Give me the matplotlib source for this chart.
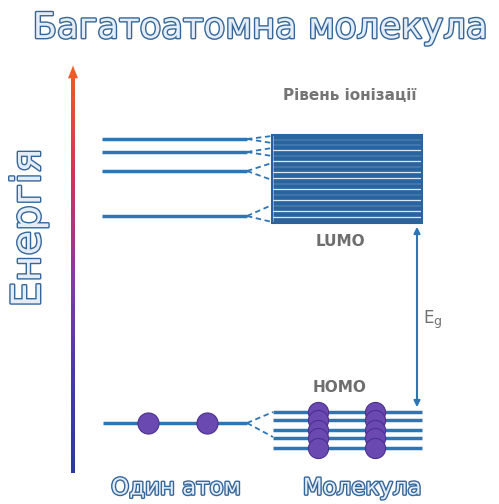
import matplotlib.pyplot as plt
import matplotlib.patheffects as pe
import numpy as np
from matplotlib.colors import LinearSegmentedColormap

# diagram coordinates are in picture pixels (y grows downwards)
atom_upper = [139, 152, 171, 216]
split_upper = [(136, 143), (148, 156), (163, 180), (205, 222)]
band_upper = [137, 142, 147, 153, 158, 164, 169, 175, 181, 186, 192, 197, 203, 208, 214, 220]
atom_lower = 423
split_lower = (412, 437)
homo_lines = [412, 420, 430, 438, 448]
atom_dots = [148, 207]
homo_dot_x = [318, 375]

blue = '#2e75b6'
dark = '#2a64a0'
fill = '#e4edf7'
outline = [pe.Stroke(linewidth=2.0, foreground='#34669a'), pe.Normal()]

fig = plt.figure(figsize=(4.99, 5.04), dpi=100)
ax = fig.add_axes([0, 0, 1, 1])

# energy arrow with colour gradient
cmap = LinearSegmentedColormap.from_list(
    'e', ['#2b3a9a', '#4a3aa8', '#8a3aa0', '#d8305a', '#f05a28'])
grad = np.linspace(0, 1, 256).reshape(-1, 1)
ax.imshow(grad, cmap=cmap, aspect='auto', extent=(71.3, 74.7, 473, 74), origin='lower',
          interpolation='bilinear')
ax.annotate('', xy=(73, 63), xytext=(73, 76),
            arrowprops=dict(arrowstyle='-|>,head_length=0.55,head_width=0.22',
                            color='#f05a28', lw=0.1, mutation_scale=16))

ax.set_xlim(0, 499)
ax.set_ylim(504, 0)
ax.axis('off')

# atomic levels and splitting
for y, (a, b) in zip(atom_upper, split_upper):
    ax.plot([102, 247], [y, y], color=blue, lw=2.5, solid_capstyle='butt')
    ax.plot([247, 272], [y, a], color=blue, lw=1.3, ls=(0, (3, 2)))
    ax.plot([247, 272], [y, b], color=blue, lw=1.3, ls=(0, (3, 2)))

# conduction band box
ax.add_patch(plt.Rectangle((272, 135), 150, 88, facecolor='#dbe6f2', edgecolor=dark, lw=1.5))
for y in band_upper:
    ax.plot([273, 421], [y, y], color=dark, lw=3.4, solid_capstyle='butt')

# lower level
ax.plot([103, 247], [atom_lower, atom_lower], color=blue, lw=2.5, solid_capstyle='butt')
for y in split_lower:
    ax.plot([247, 273], [atom_lower, y], color=blue, lw=1.3, ls=(0, (3, 2)))
for y in homo_lines:
    ax.plot([273, 422], [y, y], color=blue, lw=2.5, solid_capstyle='butt')

ax.scatter(atom_dots, [atom_lower] * len(atom_dots), s=230, color='#6a4ab0',
           edgecolor='#4a3090', lw=0.8, zorder=5)
for x in homo_dot_x:
    ax.scatter([x] * len(homo_lines), homo_lines, s=210, color='#6a4ab0',
               edgecolor='#4a3090', lw=0.8, zorder=5)

# band gap arrow
ax.annotate('', xy=(417, 224), xytext=(417, 410),
            arrowprops=dict(arrowstyle='<|-|>', color=blue, lw=1.5, mutation_scale=9))
ax.text(423, 318, 'E', fontsize=12, color='#707070', ha='left', va='center')
ax.text(433, 322, 'g', fontsize=9, color='#707070', ha='left', va='center')

ax.text(340, 241, 'LUMO', fontsize=11, fontweight='bold', color='#6e6e6e', ha='center', va='center')
ax.text(340, 387, 'HOMO', fontsize=11, fontweight='bold', color='#6e6e6e', ha='center', va='center')
ax.text(350, 96, 'Рівень іонізації', fontsize=11, fontweight='bold', color='#757575',
        ha='center', va='center')

ax.text(260, 28, 'Багатоатомна молекула', fontsize=25.5, color=fill, ha='center',
        va='center', path_effects=outline)
ax.text(29, 228, 'Енергія', fontsize=29, color=fill, ha='center', va='center',
        rotation=90, path_effects=outline)
ax.text(176, 488, 'Один атом', fontsize=16.5, color=fill, ha='center', va='center',
        path_effects=outline)
ax.text(362, 488, 'Молекула', fontsize=16.5, color=fill, ha='center', va='center',
        path_effects=outline)

fig.savefig('out.png', dpi=100)
